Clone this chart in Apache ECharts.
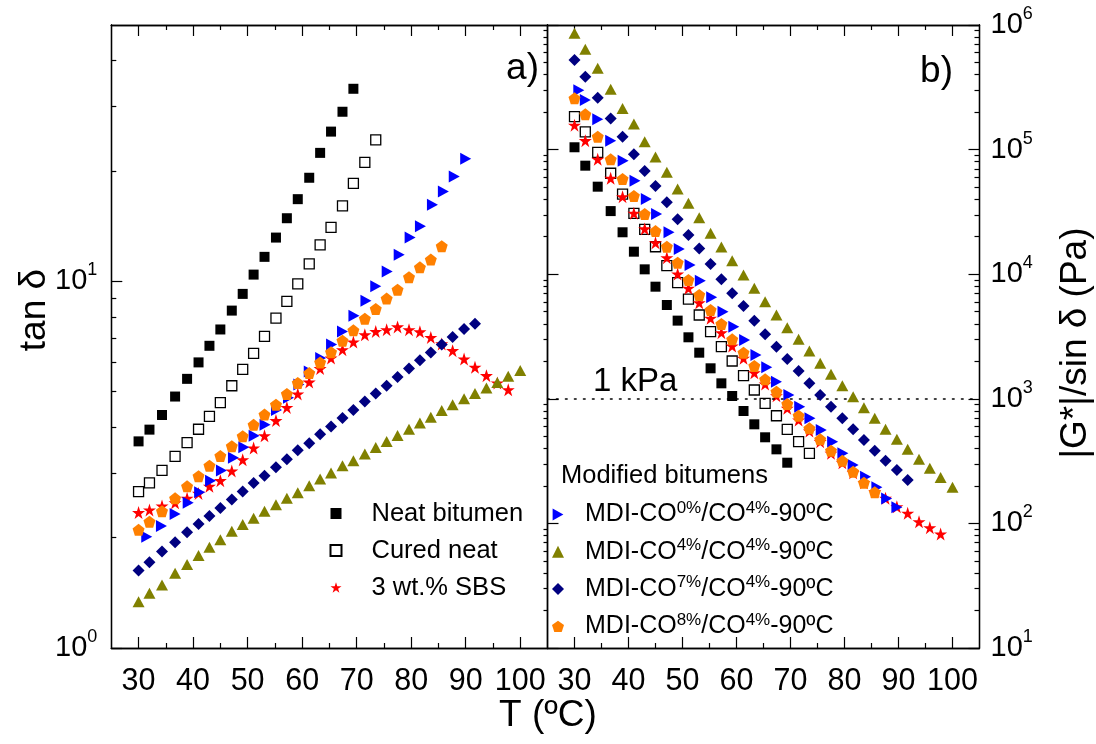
<!DOCTYPE html>
<html><head><meta charset="utf-8">
<script src="https://cdn.jsdelivr.net/npm/echarts@6/dist/echarts.min.js"></script>
<style>html,body{margin:0;padding:0;background:#fff}#c{width:1096px;height:744px}</style>
</head><body><div id="c"></div>
<script>
// ---------- data ----------
const temps = [30, 32, 34.3, 36.7, 38.9, 41, 43, 45, 47.1, 49.1, 51.1, 53.1, 55.2, 57.2, 59.2, 61.3, 63.3, 65.3, 67.4, 69.4, 71.5, 73.5, 75.5, 77.5, 79.6, 81.6, 83.6, 85.6, 87.6, 89.7, 91.7, 93.8, 95.8, 97.8, 100];

// panel a) tan delta
const neatTan  = [3.66, 3.94, 4.32, 4.85, 5.42, 6.01, 6.67, 7.39, 8.32, 9.24, 10.43, 11.66, 13.16, 14.86, 16.75, 19.16, 22.4, 25.6, 29.0, 33.5];
const curedTan = [2.67, 2.82, 3.05, 3.33, 3.63, 3.95, 4.28, 4.67, 5.19, 5.75, 6.36, 7.08, 7.94, 8.82, 9.84, 11.15, 12.57, 14.03, 16.06, 18.49, 21.1, 24.3];
const sbsTan   = [2.34, 2.38, 2.44, 2.49, 2.56, 2.64, 2.76, 2.86, 3.04, 3.26, 3.51, 3.79, 4.17, 4.53, 4.93, 5.31, 5.78, 6.18, 6.51, 6.83, 7.15, 7.30, 7.38, 7.51, 7.38, 7.28, 7.03, 6.75, 6.47, 6.14, 5.83, 5.53, 5.28, 5.06];
const m0TempsTan = [31.5, 34.2, 36.7, 39.1, 41.2, 43.2, 45.2, 47.4, 49.3, 51.2, 53.2, 55.3, 57.5, 59.4, 61.3, 63.4, 65.4, 67.4, 69.5, 71.7, 73.5, 75.6, 77.8, 79.8, 81.7, 83.9, 85.9, 87.9, 90.0];
const m0Tan    = [2.01, 2.15, 2.32, 2.49, 2.66, 2.86, 3.05, 3.30, 3.53, 3.79, 4.06, 4.46, 4.81, 5.23, 5.68, 6.18, 6.72, 7.30, 8.06, 8.85, 9.69, 10.63, 11.82, 13.16, 14.13, 16.17, 17.58, 19.32, 21.6];
const m4Tan    = [1.338, 1.41, 1.486, 1.60, 1.69, 1.787, 1.883, 1.972, 2.08, 2.17, 2.26, 2.36, 2.46, 2.56, 2.65, 2.77, 2.89, 3.00, 3.14, 3.24, 3.38, 3.52, 3.66, 3.80, 3.95, 4.11, 4.26, 4.44, 4.61, 4.78, 4.94, 5.12, 5.30, 5.51, 5.71];
const m7Tan    = [1.626, 1.714, 1.833, 1.944, 2.07, 2.18, 2.29, 2.41, 2.54, 2.67, 2.82, 2.95, 3.11, 3.27, 3.46, 3.62, 3.83, 4.02, 4.24, 4.46, 4.70, 4.94, 5.19, 5.48, 5.78, 6.09, 6.40, 6.72, 7.05, 7.41, 7.66];
const m8Tan    = [2.10, 2.21, 2.36, 2.56, 2.76, 2.94, 3.14, 3.34, 3.55, 3.78, 4.06, 4.33, 4.61, 4.93, 5.28, 5.62, 6.01, 6.41, 6.89, 7.35, 7.91, 8.41, 8.97, 9.49, 10.26, 10.92, 11.46, 12.46];

// panel b) |G*|/sin delta (Pa)
const neatG  = [104400, 74300, 50400, 32100, 21700, 15160, 10940, 7940, 5660, 4240, 3116, 2345, 1757, 1331, 1053, 798, 624, 491, 393, 307];
const curedG = [184000, 139000, 95000, 64600, 44000, 30800, 22900, 16600, 11700, 8550, 6320, 4706, 3455, 2618, 2011, 1532, 1177, 920, 731, 569, 453, 365];
const sbsG   = [157000, 118000, 83600, 58900, 41900, 30800, 23100, 17900, 13570, 10040, 7710, 5905, 4425, 3393, 2653, 2113, 1620, 1315, 1059, 839, 676, 551, 453, 365, 307, 255, 212, 180, 159, 136, 120.5, 103, 92.4, 82.2];
const m0TempsG = [30.8, 32.0, 34.3, 36.7, 39.0, 41.2, 43.3, 45.2, 47.5, 49.4, 51.4, 53.3, 55.4, 57.5, 59.5, 61.5, 63.6, 65.6, 67.4, 69.7, 71.7, 73.6, 75.7, 77.8, 79.7, 81.6, 83.9, 86.0, 87.8, 89.7];
const m0G    = [300000, 250000, 175000, 118000, 81500, 56300, 40100, 30400, 21700, 15900, 11850, 8870, 6525, 5000, 3790, 2965, 2246, 1789, 1372, 1073, 864, 697, 562, 453, 365, 294, 237, 195, 158.5, 134.5];
const m4G    = [857000, 638000, 449000, 305000, 214000, 160500, 115600, 87200, 65700, 48300, 37100, 28400, 21300, 16520, 12820, 9850, 7700, 6020, 4710, 3720, 3000, 2420, 1930, 1573, 1274, 1040, 848, 697, 569, 473, 393, 327, 277, 234, 195];
const m7G    = [524000, 385000, 261000, 178000, 127000, 91600, 67300, 51000, 37800, 27600, 20600, 16100, 12080, 9100, 7030, 5560, 4240, 3295, 2618, 2084, 1670, 1331, 1073, 864, 697, 569, 467, 383, 318, 268, 223];
const m8G    = [258000, 192000, 127000, 83600, 58100, 42400, 30400, 22200, 16600, 12370, 8985, 6810, 5160, 3985, 3000, 2345, 1832, 1434, 1140, 908, 731, 579, 473, 383, 318, 260, 212, 178];

// ticks
const xMajor = [30, 40, 50, 60, 70, 80, 90, 100];
const xMinor = [35, 45, 55, 65, 75, 85, 95];
const tanMajor = [1, 10];
const tanMinor = [2, 3, 4, 5, 6, 7, 8, 9, 20, 30, 40];
const gMajor = [10, 100, 1000, 10000, 100000, 1000000];
const gMinor = [];
[10, 100, 1000, 10000, 100000].forEach(d => { for (let k = 2; k <= 9; k++) gMinor.push(k * d); });
const kPaLevel = 1000;

// names
const nNeat = 'Neat bitumen', nCured = 'Cured neat', nSBS = '3 wt.% SBS';
const nM0 = 'MDI-CO0%/CO4%-90ºC', nM4 = 'MDI-CO4%/CO4%-90ºC', nM7 = 'MDI-CO7%/CO4%-90ºC', nM8 = 'MDI-CO8%/CO4%-90ºC';

// ---------- chart ----------
const F = "'Liberation Sans', Arial, Helvetica, sans-serif";
const STAR = 'path://M0,-1 L0.2245,-0.309 L0.951,-0.309 L0.3633,0.118 L0.588,0.809 L0,0.382 L-0.588,0.809 L-0.3633,0.118 L-0.951,-0.309 L-0.2245,-0.309 Z';
const PENT = 'path://M0,-1 L0.951,-0.309 L0.588,0.809 L-0.588,0.809 L-0.951,-0.309 Z';
const TRIR = 'path://M0,0 L0.9,0.5 L0,1 Z';
const LC = '#000';

const look = {
  [nNeat]: {symbol: 'rect', symbolSize: 10, itemStyle: {color: '#000', opacity: 1}},
  [nCured]: {symbol: 'rect', symbolSize: 10, itemStyle: {color: '#fff', borderColor: '#000', borderWidth: 1.3, opacity: 1}},
  [nSBS]: {symbol: STAR, symbolSize: 13, itemStyle: {color: '#ff0000', opacity: 1}},
  [nM0]: {symbol: TRIR, symbolSize: [11, 12], itemStyle: {color: '#0000ff', opacity: 1}},
  [nM4]: {symbol: 'triangle', symbolSize: [12, 11], itemStyle: {color: '#808000', opacity: 1}},
  [nM7]: {symbol: 'diamond', symbolSize: 12, itemStyle: {color: '#000080', opacity: 1}},
  [nM8]: {symbol: PENT, symbolSize: 12, itemStyle: {color: '#ff8000', opacity: 1}}
};

function pairs(ts, vs) { return vs.map((v, i) => [ts[i], v]); }
function sc(name, xi, yi, data, z, extra) {
  return Object.assign({type: 'scatter', name, xAxisIndex: xi, yAxisIndex: yi, data, z, silent: true, emphasis: {disabled: true}}, look[name], extra || {});
}

function xAx(grid, pos, ticks, len, labels) {
  return {
    type: 'value', gridIndex: grid, position: pos, min: 25, max: 105,
    axisLine: {show: true, onZero: false, lineStyle: {color: LC, width: 1.3}},
    axisTick: {show: true, inside: true, length: len, customValues: ticks, lineStyle: {color: LC, width: 1.2}},
    axisLabel: labels ? {show: true, customValues: labels, margin: 18, color: '#000', fontSize: 30.5, fontFamily: F} : {show: false},
    splitLine: {show: false}
  };
}
const supFmt = v => '{b|10}{s|' + Math.round(Math.log10(v)) + '}';
const supRich = {
  b: {fontSize: 29, lineHeight: 40, fontFamily: F, color: '#000'},
  s: {fontSize: 18, lineHeight: 18, verticalAlign: 'top', fontFamily: F, color: '#000'}
};
function yAx(grid, pos, min, max, ticks, len, labels, margin, inside) {
  return {
    type: 'log', logBase: 10, gridIndex: grid, position: pos, min, max,
    axisLine: {show: true, onZero: false, lineStyle: {color: LC, width: 1.3}},
    axisTick: {show: ticks !== null, inside: inside !== false, length: len, customValues: ticks || [], lineStyle: {color: LC, width: 1.2}},
    axisLabel: labels ? {show: true, customValues: labels, formatter: supFmt, margin, color: '#000', fontFamily: F, rich: supRich} : {show: false},
    splitLine: {show: false}, minorTick: {show: false}
  };
}

const xAxes = [
  xAx(0, 'bottom', xMajor, 11, xMajor),
  xAx(0, 'top', xMajor, 11, null),
  xAx(0, 'bottom', xMinor, 5, null),
  xAx(0, 'top', xMinor, 5, null),
  xAx(1, 'bottom', xMajor, 11, xMajor),
  xAx(1, 'top', xMajor, 11, null),
  xAx(1, 'bottom', xMinor, 5, null),
  xAx(1, 'top', xMinor, 5, null)
];
const yAxes = [
  yAx(0, 'left', 1, 50, tanMajor, 11, tanMajor, 14),
  yAx(0, 'left', 1, 50, tanMinor, 5, null),
  yAx(0, 'right', 1, 50, null, 0, null),
  yAx(1, 'right', 10, 1000000, gMajor, 11, gMajor, 11),
  yAx(1, 'right', 10, 1000000, gMinor, 5, null),
  yAx(1, 'left', 10, 1000000, gMajor, 11, null),
  yAx(1, 'left', 10, 1000000, gMinor, 4, null, 0, false)
];

const series = [
  sc(nNeat, 0, 0, pairs(temps, neatTan), 2),
  sc(nCured, 0, 0, pairs(temps, curedTan), 3),
  sc(nSBS, 0, 0, pairs(temps, sbsTan), 4),
  sc(nM0, 0, 0, pairs(m0TempsTan, m0Tan), 5),
  sc(nM4, 0, 0, pairs(temps, m4Tan), 6),
  sc(nM7, 0, 0, pairs(temps, m7Tan), 7),
  sc(nM8, 0, 0, pairs(temps, m8Tan), 8),
  sc(nNeat, 4, 3, pairs(temps, neatG), 2, {
    markLine: {silent: true, symbol: 'none', label: {show: false}, animation: false,
      lineStyle: {type: [1.6, 7.4], color: '#000', width: 1.6, cap: 'round', opacity: 1},
      data: [{yAxis: kPaLevel}]}
  }),
  sc(nCured, 4, 3, pairs(temps, curedG), 3),
  sc(nSBS, 4, 3, pairs(temps, sbsG), 4),
  sc(nM0, 4, 3, pairs(m0TempsG, m0G), 5),
  sc(nM4, 4, 3, pairs(temps, m4G), 6),
  sc(nM7, 4, 3, pairs(temps, m7G), 7),
  sc(nM8, 4, 3, pairs(temps, m8G), 8)
];

const txt = (text, x, y, size, align, rot) => ({
  type: 'text', x, y, rotation: rot || 0, silent: true,
  style: {text, fill: '#000', fontSize: size, fontFamily: F, align: align || 'left', textAlign: align || 'left', verticalAlign: 'middle', textVerticalAlign: 'middle'}
});

const option = {
  animation: false,
  backgroundColor: '#fff',
  grid: [
    {left: 111.3, top: 25, width: 436.2, height: 623, containLabel: false},
    {left: 547.5, top: 25, width: 432, height: 623, containLabel: false}
  ],
  xAxis: xAxes,
  yAxis: yAxes,
  legend: [
    {
      data: [nNeat, nCured, nSBS], orient: 'vertical', left: 329.5, top: 500.5, padding: 0,
      itemWidth: 11, itemHeight: 11, itemGap: 11, selectedMode: false,
      textStyle: {fontSize: 25.5, lineHeight: 25.5, color: '#000', fontFamily: F, padding: [0, 0, 0, 25]}
    },
    {
      data: [nM0, nM4, nM7, nM8], orient: 'vertical', left: 552, top: 499.5, padding: 0,
      itemWidth: 12, itemHeight: 12, itemGap: 9.8, selectedMode: false,
      formatter: name => {
        const m = name.match(/^MDI-CO(\d+%)\/CO(\d+%)(-90ºC)$/);
        return '{m|MDI-CO}{s|' + m[1] + '}{m|/CO}{s|' + m[2] + '}{m|' + m[3] + '}';
      },
      textStyle: {
        color: '#000', fontFamily: F, padding: [0, 0, 0, 16],
        rich: {
          m: {fontSize: 25, lineHeight: 30, fontFamily: F, color: '#000'},
          s: {fontSize: 17, lineHeight: 17, verticalAlign: 'top', fontFamily: F, color: '#000'}
        }
      }
    }
  ],
  graphic: [
    txt('a)', 539, 69, 37, 'right'),
    txt('b)', 953, 72, 37, 'right'),
    txt('1 kPa', 593, 382, 33, 'left'),
    txt('Modified bitumens', 561, 476, 25.5, 'left'),
    txt('T (ºC)', 548, 716, 37, 'center'),
    txt('tan δ', 35, 310, 37, 'center', Math.PI / 2),
    txt('|G*|/sin δ (Pa)', 1076, 343, 37, 'center', Math.PI / 2)
  ],
  series
};

const chart = echarts.init(document.getElementById('c'), null, {renderer: 'canvas'});
chart.setOption(option);
</script>
</body></html>
